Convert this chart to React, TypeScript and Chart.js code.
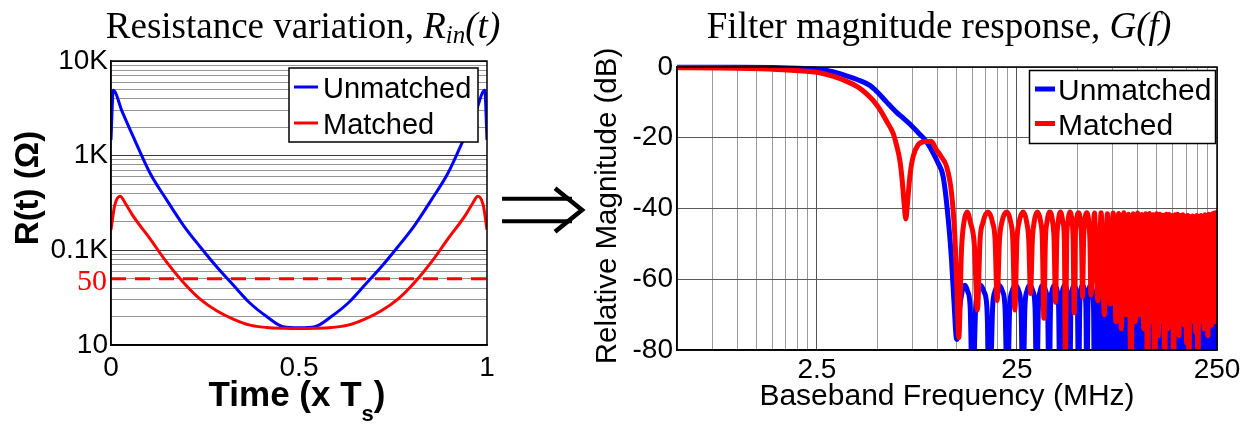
import React, { useEffect, useRef } from "react";
import { Chart, registerables } from "chart.js";

Chart.register(...registerables);

const SANS = '"Liberation Sans", Arial, Helvetica, sans-serif';
const SERIF = '"Liberation Serif", "Times New Roman", Times, serif';

// ---------------- Left panel: resistance variation ----------------
const timeUnmatched = [0, 0.006, 0.03, 0.059, 0.104, 0.148, 0.192, 0.237, 0.281, 0.325, 0.37, 0.414, 0.458, 0.5, 0.542, 0.586, 0.63, 0.675, 0.719, 0.763, 0.808, 0.852, 0.896, 0.941, 0.97, 0.994, 1];
const resUnmatched = [1470, 4900, 2900, 1590, 651, 341, 185, 109, 67, 43, 27.6, 20, 15.6, 15.2, 15.6, 20, 27.6, 43, 67, 109, 185, 341, 651, 1590, 2900, 4900, 1470];
const timeMatched = [0, 0.01, 0.024, 0.04, 0.059, 0.104, 0.148, 0.192, 0.237, 0.281, 0.325, 0.37, 0.414, 0.458, 0.5, 0.542, 0.586, 0.63, 0.675, 0.719, 0.763, 0.808, 0.852, 0.896, 0.941, 0.96, 0.976, 0.99, 1];
const resMatched = [165, 300, 373, 305, 230, 132, 75, 46, 30.5, 23, 18.8, 16.2, 15.3, 15.0, 14.9, 15.0, 15.3, 16.2, 18.8, 23, 30.5, 46, 75, 132, 230, 305, 373, 300, 165];
const refTime = [0, 1];
const refResistance = [50, 50];
const resGrid = [10, 20, 30, 40, 50, 60, 70, 80, 90, 100, 200, 300, 400, 500, 600, 700, 800, 900, 1000, 2000, 3000, 4000, 5000, 6000, 7000, 8000, 9000, 10000];
const resTickValues = [10, 100, 1000, 10000];
const resTickLabels = ["10", "0.1K", "1K", "10K"];
const timeTickValues = [0, 0.5, 1];
const timeTickLabels = ["0", "0.5", "1"];

// ---------------- Right panel: filter magnitude response ----------------
const freqUnmatched = [
  0.5, 1.0, 1.5, 2.0, 2.5, 3.0, 3.51, 4.0, 4.6, 5.0, 5.6, 6.2, 6.8, 7.5, 8.1, 8.8, 9.53, 10.1, 10.69, 11.31, 11.78, 12.1, 12.5, 12.62,
  12.95, 13.3, 13.73, 14.2, 14.6, 15.0, 15.55, 15.95, 16.5, 17.1, 17.7, 18.3, 18.9, 19.4, 20.3, 21.2, 21.8, 22.4,
  23.0, 23.6, 24.5, 25.6, 26.2, 26.8, 27.4, 28.0, 29.0, 30.1, 30.8, 31.4, 32.0, 32.6, 33.7, 34.9, 35.6, 36.2,
  36.8, 37.4, 38.6, 39.8, 40.4, 41.0, 41.6, 42.2, 43.4, 44.6, 45.3, 45.9, 46.5, 47.1, 48.3, 49.5, 50.2, 50.8,
  51.5, 52.1, 53.3, 54.6, 55.3, 55.9, 56.6, 57.2, 58.4, 59.7, 60.4, 61.0,
  63.4, 65.9, 68.3, 70.8, 73.2, 75.7, 78.1, 80.6, 83.0, 85.5, 87.9, 90.4, 92.8, 95.3, 97.7, 100.2, 102.6, 105.1,
  107.5, 110.0, 112.4, 114.9, 117.3, 119.8, 122.2, 124.7, 127.1, 129.6, 132.0, 134.5, 136.9, 139.4, 141.8, 144.3,
  146.7, 149.2, 151.6, 154.1, 156.5, 159.0, 161.4, 163.9, 166.3, 168.8, 171.2, 173.7, 176.1, 178.6, 181.0, 183.5,
  185.9, 188.4, 190.8, 193.3, 195.7, 198.2, 200.6, 203.1, 205.5, 208.0, 210.4, 212.9, 215.3, 217.8, 220.2, 222.7,
  225.1, 227.6, 230.0, 232.5, 234.9, 237.4, 239.8, 242.3, 244.7, 247.2, 249.6
];
const magUnmatched = [
  -0.05, -0.05, -0.15, -0.35, -0.6, -1.3, -2.5, -3.6, -5.2, -7.0, -10, -12.6, -14.6, -16.8, -18.8, -21.0, -24.3, -27.2, -30.9, -42.3, -54.6, -65.9, -77, -76.5,
  -68, -63.5, -61.7, -63.5, -68, -95, -68, -63.5, -61.7, -63.5, -68, -95, -68, -63.5, -61.7, -63.5, -68, -95,
  -68, -63.5, -61.7, -63.5, -68, -95, -68, -63.5, -61.7, -63.5, -68, -95, -68, -63.5, -61.7, -63.5, -68, -95,
  -68, -63.5, -61.7, -63.5, -68, -95, -68, -63.5, -61.7, -63.5, -68, -95, -68, -63.5, -61.7, -63.5, -68, -95,
  -68, -63.5, -61.8, -63.5, -68, -95, -68, -63.5, -61.8, -63.5, -68, -95,
  -62, -95, -62, -95, -62.5, -95, -63, -95, -63.5, -95, -64, -95, -64.5, -95, -65, -95, -65.5, -95,
  -66, -95, -66, -95, -66.5, -95, -67, -95, -67, -95, -67.5, -95, -68, -95, -68, -95,
  -68.5, -95, -69, -95, -69, -95, -69.5, -95, -70, -95, -70, -95, -70, -95, -70.5, -95,
  -70.5, -95, -71, -95, -71, -95, -71, -95, -71.5, -95, -71.5, -95, -71.5, -95, -72, -95,
  -72, -95, -72, -95, -72, -95, -72, -95, -72, -95, -72
];
const freqMatched = [
  0.5, 0.8, 1.15, 1.7, 2.5, 3.0, 3.5, 4.0, 4.42, 4.8, 5.16, 5.6, 6.01, 6.25, 6.49, 6.65, 6.8, 6.96, 7.12, 7.29, 7.57, 8.02, 8.66, 9.3,
  9.91, 10.5, 11.12, 11.78, 12.24, 12.5, 12.81, 13.21, 13.57, 14.1, 14.65, 15.3, 15.87,
  16.35, 16.9, 17.9, 18.9, 19.45, 19.91, 20.45, 21.0, 22.2, 23.3, 23.85, 24.41,
  25.0, 25.6, 26.9, 28.0, 28.65, 29.24, 29.85, 30.45, 31.6, 32.9, 33.5, 34.08,
  34.7, 35.3, 36.5, 37.75, 38.35, 38.97, 39.55, 40.15, 41.3, 42.5, 43.15, 43.73,
  44.3, 44.9, 46.0, 47.2, 47.75, 48.32, 48.9, 49.5, 50.8, 52.0, 52.6, 53.2,
  53.85, 54.5, 55.8, 57.2, 57.9, 58.6,
  61.0, 63.5, 65.9, 68.4, 70.8, 73.3, 75.7, 78.2, 80.6, 83.1, 85.5, 88.0, 90.4, 92.9, 95.3, 97.8, 100.2, 102.7,
  105.1, 107.6, 110.0, 112.5, 114.9, 117.4, 119.8, 122.3, 124.7, 127.2, 129.6, 132.1, 134.5, 137.0, 139.4, 141.9,
  144.3, 146.8, 149.2, 151.7, 154.1, 156.6, 159.0, 161.5, 163.9, 166.4, 168.8, 171.3, 173.7, 176.2, 178.6, 181.1,
  183.5, 186.0, 188.4, 190.9, 193.3, 195.8, 198.2, 200.7, 203.1, 205.6, 208.0, 210.5, 212.9, 215.4, 217.8, 220.3,
  222.7, 225.2, 227.6, 230.1, 232.5, 235.0, 237.4, 239.9, 242.3, 244.8, 247.2, 249.7
];
const magMatched = [
  -0.2, -0.3, -0.45, -0.8, -1.5, -2.6, -4.0, -5.6, -7.5, -9.6, -12, -15.5, -18.7, -22, -26.2, -31, -37.5, -43, -37.5, -31, -25.3, -22, -21.1, -21.0,
  -23.4, -25.5, -28.1, -35.6, -47.9, -61, -76.5, -51.7, -44.1, -41, -44, -50, -68.7,
  -49, -44, -41, -44, -49, -66, -49, -44, -41, -44, -49, -68.7,
  -49, -44, -41, -44, -49, -64, -49, -44, -41, -44, -49, -71,
  -49, -44, -41, -44, -49, -66.5, -49, -44, -41, -44, -49, -85,
  -49, -44, -41, -44, -49, -69.5, -49, -44, -41.2, -44, -49, -65,
  -49, -44, -41.2, -44, -49, -64.5,
  -41.3, -66, -41.2, -70, -41.5, -67, -41.3, -72, -41.4, -74, -41.2, -70, -41.6, -88, -41.5, -72, -41.3, -70,
  -41.7, -74, -41.5, -90, -41.4, -72, -41.8, -86, -41.5, -76, -41.6, -72, -41.9, -88, -41.6, -74,
  -41.7, -71, -42.0, -90, -41.8, -72, -41.6, -76, -42.0, -70, -41.8, -73, -42.2, -78, -42.0, -90,
  -42.3, -72, -42.1, -70, -42.4, -75, -42.0, -90, -42.3, -72, -42.0, -70, -42.5, -74, -41.8, -71,
  -42.2, -76, -41.6, -70, -42.0, -73, -41.5, -69, -41.3, -72, -41.2, -70
];
const freqGrid = [0.75, 1, 1.25, 1.5, 1.75, 2, 2.25, 2.5, 5, 7.5, 10, 12.5, 15, 17.5, 20, 22.5, 25, 50, 75, 100, 125, 150, 175, 200, 225, 250];
const freqTickValues = [2.5, 25, 250];
const freqTickLabels = ["2.5", "25", "250"];
const magTickValues = [0, -20, -40, -60, -80];
const magTickLabels = ["0", "-20", "-40", "-60", "-80"];

const seriesNames = ["Unmatched", "Matched"];
const seriesColors = ["#0000ff", "#ff0000"];

const pts = (xs: number[], ys: number[]) => xs.map((x, i) => ({ x, y: ys[i] }));
const findLabel = (vals: number[], labels: string[], v: number) => {
  const i = vals.findIndex((t) => Math.abs(t - v) < 1e-9);
  return i >= 0 ? labels[i] : "";
};

type Run = { text: string; font: string; dy?: number };
function drawRuns(ctx: CanvasRenderingContext2D, runs: Run[], x: number, y: number, align: string, color = "#000") {
  ctx.save();
  ctx.fillStyle = color;
  ctx.textBaseline = "alphabetic";
  ctx.textAlign = "left";
  let total = 0;
  const widths = runs.map((r) => {
    ctx.font = r.font;
    const w = ctx.measureText(r.text).width;
    total += w;
    return w;
  });
  let cx = align === "center" ? x - total / 2 : align === "right" ? x - total : x;
  runs.forEach((r, i) => {
    ctx.font = r.font;
    ctx.fillText(r.text, cx, y + (r.dy || 0));
    cx += widths[i];
  });
  ctx.restore();
}

function drawFrame(chart: any) {
  const { ctx, chartArea: a } = chart;
  ctx.save();
  ctx.strokeStyle = "#000";
  ctx.lineWidth = 1.5;
  ctx.strokeRect(a.left, a.top, a.right - a.left, a.bottom - a.top);
  ctx.restore();
}

function drawLegend(ctx: CanvasRenderingContext2D, box: any) {
  ctx.save();
  ctx.fillStyle = "#fff";
  ctx.fillRect(box.x, box.y, box.w, box.h);
  ctx.strokeStyle = "#000";
  ctx.lineWidth = 1.5;
  ctx.strokeRect(box.x, box.y, box.w, box.h);
  seriesNames.forEach((name, i) => {
    const ry = box.rows[i];
    ctx.strokeStyle = seriesColors[i];
    ctx.lineWidth = box.lw;
    ctx.beginPath();
    ctx.moveTo(box.lx1, ry);
    ctx.lineTo(box.lx2, ry);
    ctx.stroke();
    ctx.fillStyle = "#000";
    ctx.font = box.font;
    ctx.textAlign = "left";
    ctx.textBaseline = "alphabetic";
    ctx.fillText(name, box.tx, ry + box.baseOff);
  });
  ctx.restore();
}

const leftDecor = {
  id: "leftDecor",
  afterDatasetsDraw(chart: any) {
    drawFrame(chart);
  },
  afterDraw(chart: any) {
    const ctx = chart.ctx as CanvasRenderingContext2D;
    drawRuns(ctx, [
      { text: "Resistance variation, ", font: `37px ${SERIF}` },
      { text: "R", font: `italic 37px ${SERIF}` },
      { text: "in", font: `italic 25px ${SERIF}`, dy: 5 },
      { text: "(t)", font: `italic 37px ${SERIF}` },
    ], 303, 38, "center");
    ctx.save();
    ctx.translate(29, 188);
    ctx.rotate(-Math.PI / 2);
    ctx.font = `bold 33px ${SANS}`;
    ctx.fillStyle = "#000";
    ctx.textAlign = "center";
    ctx.textBaseline = "middle";
    ctx.fillText("R(t) (\u03A9)", 0, 0);
    ctx.restore();
    drawRuns(ctx, [
      { text: "Time (x T", font: `bold 35px ${SANS}` },
      { text: "s", font: `bold 22px ${SANS}`, dy: 15 },
      { text: ")", font: `bold 35px ${SANS}` },
    ], 297, 406, "center");
    const y50 = chart.scales.y.getPixelForValue(refResistance[0]);
    drawRuns(ctx, [{ text: "50", font: `30px ${SERIF}` }], 107, y50 + 11, "right", "#ff0000");
    drawLegend(ctx, { x: 289, y: 68, w: 189, h: 74, rows: [87, 123], lx1: 294, lx2: 318, lw: 3, tx: 323, font: `29px ${SANS}`, baseOff: 10.5 });
  },
};

const rightDecor = {
  id: "rightDecor",
  afterDatasetsDraw(chart: any) {
    drawFrame(chart);
  },
  afterDraw(chart: any) {
    const ctx = chart.ctx as CanvasRenderingContext2D;
    drawRuns(ctx, [
      { text: "Filter magnitude response, ", font: `37px ${SERIF}` },
      { text: "G(f)", font: `italic 37px ${SERIF}` },
    ], 939, 38, "center");
    ctx.save();
    ctx.translate(608, 206);
    ctx.rotate(-Math.PI / 2);
    ctx.font = `29.5px ${SANS}`;
    ctx.fillStyle = "#000";
    ctx.textAlign = "center";
    ctx.textBaseline = "middle";
    ctx.fillText("Relative Magnitude (dB)", 0, 0);
    ctx.restore();
    drawRuns(ctx, [{ text: "Baseband Frequency (MHz)", font: `30px ${SANS}` }], 947, 405, "center");
    drawLegend(ctx, { x: 1029.5, y: 70.5, w: 186, h: 73, rows: [89, 123.5], lx1: 1035, lx2: 1055, lw: 5, tx: 1058, font: `30px ${SANS}`, baseOff: 11 });
  },
};

function leftConfig(): any {
  return {
    type: "line",
    data: {
      datasets: [
        { label: seriesNames[0], data: pts(timeUnmatched, resUnmatched), borderColor: seriesColors[0], borderWidth: 3, pointRadius: 0, order: 2, cubicInterpolationMode: "monotone" },
        { label: seriesNames[1], data: pts(timeMatched, resMatched), borderColor: seriesColors[1], borderWidth: 3, pointRadius: 0, order: 1, cubicInterpolationMode: "monotone" },
        { label: "50", data: pts(refTime, refResistance), borderColor: "#ff0000", borderWidth: 3, borderDash: [15, 9], pointRadius: 0, order: 3 },
      ],
    },
    options: {
      responsive: false,
      animation: false,
      devicePixelRatio: 1,
      events: [],
      layout: { padding: { left: 0, top: 61, right: 1255 - 487, bottom: 0 } },
      plugins: { legend: { display: false }, title: { display: false }, tooltip: { enabled: false } },
      scales: {
        x: {
          type: "linear",
          min: 0,
          max: 1,
          afterBuildTicks: (s: any) => { s.ticks = timeTickValues.map((v) => ({ value: v })); },
          afterFit: (s: any) => { s.height = 424 - 345; },
          ticks: {
            callback: (v: number) => findLabel(timeTickValues, timeTickLabels, v),
            font: { family: SANS, size: 28 },
            color: "#000",
            padding: 6,
            maxRotation: 0,
            minRotation: 0,
            autoSkip: false,
          },
          grid: { display: false, drawTicks: false },
          border: { display: true, color: "#000", width: 1.5 },
        },
        y: {
          type: "logarithmic",
          min: 10,
          max: 10000,
          afterBuildTicks: (s: any) => { s.ticks = resGrid.map((v) => ({ value: v })); },
          afterFit: (s: any) => { s.width = 111; },
          ticks: {
            callback: (v: number) => findLabel(resTickValues, resTickLabels, v),
            font: { family: SANS, size: 28 },
            color: "#000",
            padding: 3,
            autoSkip: false,
          },
          grid: {
            drawTicks: false,
            lineWidth: 1,
            color: (c: any) => (c.tick && resTickValues.includes(c.tick.value) ? "#3a3a3a" : "#969696"),
          },
          border: { display: true, color: "#000", width: 1.5 },
        },
      },
    },
    plugins: [leftDecor],
  };
}

function rightConfig(): any {
  const clip = { left: 0, top: 3, right: 0, bottom: 0 };
  return {
    type: "line",
    data: {
      datasets: [
        { label: seriesNames[0], data: pts(freqUnmatched, magUnmatched), borderColor: seriesColors[0], borderWidth: 5, pointRadius: 0, order: 2, borderJoinStyle: "round", cubicInterpolationMode: "monotone", clip },
        { label: seriesNames[1], data: pts(freqMatched, magMatched), borderColor: seriesColors[1], borderWidth: 5, pointRadius: 0, order: 1, borderJoinStyle: "round", cubicInterpolationMode: "monotone", clip },
      ],
    },
    options: {
      responsive: false,
      animation: false,
      devicePixelRatio: 1,
      events: [],
      layout: { padding: { left: 0, top: 67, right: 1255 - 1217, bottom: 0 } },
      plugins: { legend: { display: false }, title: { display: false }, tooltip: { enabled: false } },
      scales: {
        x: {
          type: "logarithmic",
          min: 0.5,
          max: 250,
          afterBuildTicks: (s: any) => { s.ticks = freqGrid.map((v) => ({ value: v })); },
          afterFit: (s: any) => { s.height = 424 - 350; },
          ticks: {
            callback: (v: number) => findLabel(freqTickValues, freqTickLabels, v),
            font: { family: SANS, size: 28 },
            color: "#000",
            padding: 3,
            maxRotation: 0,
            minRotation: 0,
            autoSkip: false,
          },
          grid: {
            drawTicks: false,
            lineWidth: 1,
            color: (c: any) => (c.tick && freqTickValues.includes(c.tick.value) ? "#555555" : "#9a9a9a"),
          },
          border: { display: true, color: "#000", width: 1.5 },
        },
        y: {
          type: "linear",
          min: -80,
          max: 0,
          afterBuildTicks: (s: any) => { s.ticks = magTickValues.map((v) => ({ value: v })); },
          afterFit: (s: any) => { s.width = 677; },
          ticks: {
            callback: (v: number) => findLabel(magTickValues, magTickLabels, v),
            font: { family: SANS, size: 28 },
            color: "#000",
            padding: 4,
            autoSkip: false,
          },
          grid: { drawTicks: false, lineWidth: 1, color: "#5a5a5a" },
          border: { display: true, color: "#000", width: 1.5 },
        },
      },
    },
    plugins: [rightDecor],
  };
}

export default function App() {
  const leftRef = useRef<HTMLCanvasElement | null>(null);
  const rightRef = useRef<HTMLCanvasElement | null>(null);

  useEffect(() => {
    const left = new Chart(leftRef.current as HTMLCanvasElement, leftConfig());
    const right = new Chart(rightRef.current as HTMLCanvasElement, rightConfig());
    return () => {
      left.destroy();
      right.destroy();
    };
  }, []);

  const canvasStyle: React.CSSProperties = { position: "absolute", left: 0, top: 0, width: 1255, height: 424 };
  return (
    <div style={{ position: "absolute", left: 0, top: 0, width: 1255, height: 424, background: "#fff", overflow: "hidden" }}>
      <canvas ref={leftRef} width={1255} height={424} style={canvasStyle} />
      <canvas ref={rightRef} width={1255} height={424} style={canvasStyle} />
      <svg width={1255} height={424} style={{ position: "absolute", left: 0, top: 0, pointerEvents: "none" }}>
        <line x1={502} y1={198.7} x2={572} y2={198.7} stroke="#000" strokeWidth={4} />
        <line x1={502} y1={221.3} x2={572} y2={221.3} stroke="#000" strokeWidth={4} />
        <polyline points="555,188.3 582,210 555,231.7" fill="none" stroke="#000" strokeWidth={4.5} />
      </svg>
    </div>
  );
}
